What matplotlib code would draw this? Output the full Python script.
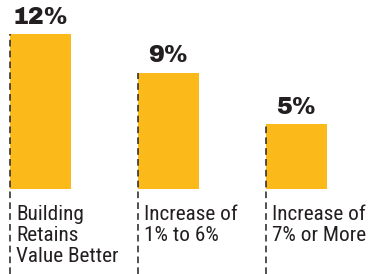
import matplotlib
matplotlib.use('Agg')
from matplotlib import pyplot as plt

categories = ["Building\nRetains\nValue Better", "Increase of\n1% to 6%", "Increase of\n7% or More"]
values = [12, 9, 5]
value_labels = ["12%", "9%", "5%"]

bar_color = "#FBB91A"
text_color = "#231F20"
width = 61 / 128

fig = plt.figure(figsize=(3.75, 2.74), dpi=100)
ax = fig.add_axes([0, 0, 1, 1])
ax.set_xlim(-40.5 / 128, 2 + 78.5 / 128)
px = 155 / 12
ax.set_ylim(-85 / px, 12 + 34 / px)
ax.axis("off")

xs = list(range(len(values)))
ax.bar(xs, values, width=width, color=bar_color, zorder=1)

for x, v, lab, cat in zip(xs, values, value_labels, categories):
    left = x - width / 2
    ax.vlines(left, -85 / px, v, colors="#333333", linestyles=(0, (4, 2.5)), linewidth=1.2, zorder=2)
    ax.text(x, v + 5.5 / px, lab, ha="center", va="bottom", fontsize=17.2, fontweight="bold",
            color=text_color, family=["Archivo Black", "DejaVu Sans"])
    ax.text(left + 6.5 / 128, -16 / px, cat, ha="left", va="top", fontsize=15.3,
            color=text_color, linespacing=1.14,
            family=["Roboto Condensed", "Archivo Narrow", "DejaVu Sans"])

fig.savefig("out.png", dpi=100)
